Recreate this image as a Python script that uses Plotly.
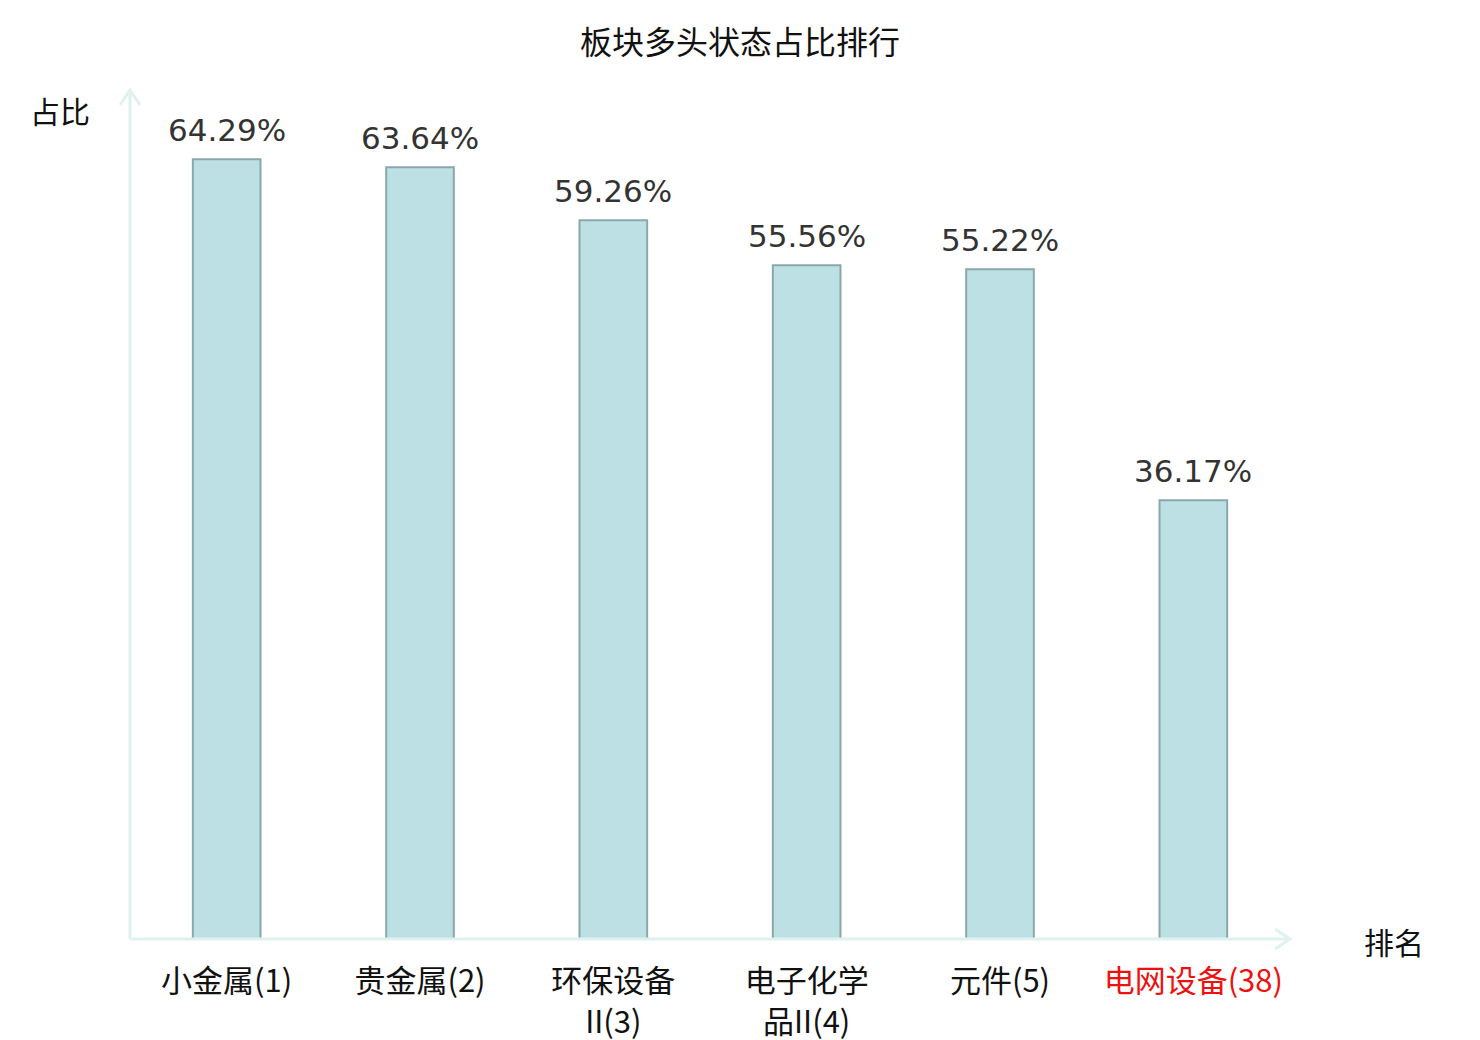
import plotly.graph_objects as go

# 板块多头状态占比排行
sectors = ["小金属(1)", "贵金属(2)", "环保设备<br>II(3)", "电子化学<br>品II(4)", "元件(5)", "电网设备(38)"]
ratios = [64.29, 63.64, 59.26, 55.56, 55.22, 36.17]
highlight = "电网设备(38)"

CJK = "Noto Sans CJK SC, DejaVu Sans, sans-serif"
AXIS_COLOR = "#dff2ef"

x_pos = list(range(len(sectors)))
tick_text = [f'<span style="color:#ee1111">{s}</span>' if s == highlight else s for s in sectors]

fig = go.Figure()
fig.add_trace(go.Bar(
    x=x_pos, y=ratios, width=0.35,
    marker=dict(color="#bce0e3", line=dict(color="#8aa8aa", width=2)),
    showlegend=False, hoverinfo="x+y",
))

# 数值标签
for xi, v in zip(x_pos, ratios):
    fig.add_annotation(x=xi, y=v, text=f"{v:.2f}%", showarrow=False,
                       xanchor="center", yanchor="middle", yshift=29,
                       font=dict(family="DejaVu Sans", size=31, color="#333333"))

# 坐标轴箭头
ax_w, ax_h = 1160, 849
hx, hy = 10 / ax_w, 15 / ax_h
fig.add_shape(type="line", xref="paper", yref="paper", x0=0, y0=0, x1=0, y1=1,
              line=dict(color=AXIS_COLOR, width=3))
fig.add_shape(type="line", xref="paper", yref="paper", x0=0, y0=0, x1=1, y1=0,
              line=dict(color=AXIS_COLOR, width=3))
fig.add_shape(type="path", xref="paper", yref="paper",
              path=f"M {-hx} {1 - hy} L 0 1 L {hx} {1 - hy}",
              line=dict(color=AXIS_COLOR, width=3))
fig.add_shape(type="path", xref="paper", yref="paper",
              path=f"M {1 - 15 / ax_w} {10 / ax_h} L 1 0 L {1 - 15 / ax_w} {-10 / ax_h}",
              line=dict(color=AXIS_COLOR, width=3))

fig.add_annotation(text="占比", xref="paper", yref="paper", x=0, y=1,
                   xanchor="right", yanchor="middle", xshift=-38, yshift=-20, showarrow=False,
                   font=dict(family=CJK, size=30, color="#111111"))
fig.add_annotation(text="排名", xref="paper", yref="paper", x=1, y=0,
                   xanchor="left", yanchor="middle", xshift=72, yshift=-2, showarrow=False,
                   font=dict(family=CJK, size=30, color="#111111"))

fig.update_layout(
    width=1480, height=1040,
    margin=dict(l=122, r=198, t=82, b=109, autoexpand=False),
    plot_bgcolor="white", paper_bgcolor="white",
    title=dict(text="板块多头状态占比排行", x=0.4946, xanchor="center", xref="container",
               y=0.967, yanchor="middle",
               font=dict(family=CJK, size=32, color="#111111")),
    xaxis=dict(range=[-0.5, 5.5], tickvals=x_pos, ticktext=tick_text,
               showgrid=False, zeroline=False, showline=False, automargin=False,
               ticks="outside", ticklen=15, tickcolor="rgba(0,0,0,0)",
               tickfont=dict(family=CJK, size=31, color="#111111")),
    yaxis=dict(range=[0, 70], showgrid=False, zeroline=False, showline=False,
               showticklabels=False, ticks="", automargin=False),
)

fig.write_html("out.html")
